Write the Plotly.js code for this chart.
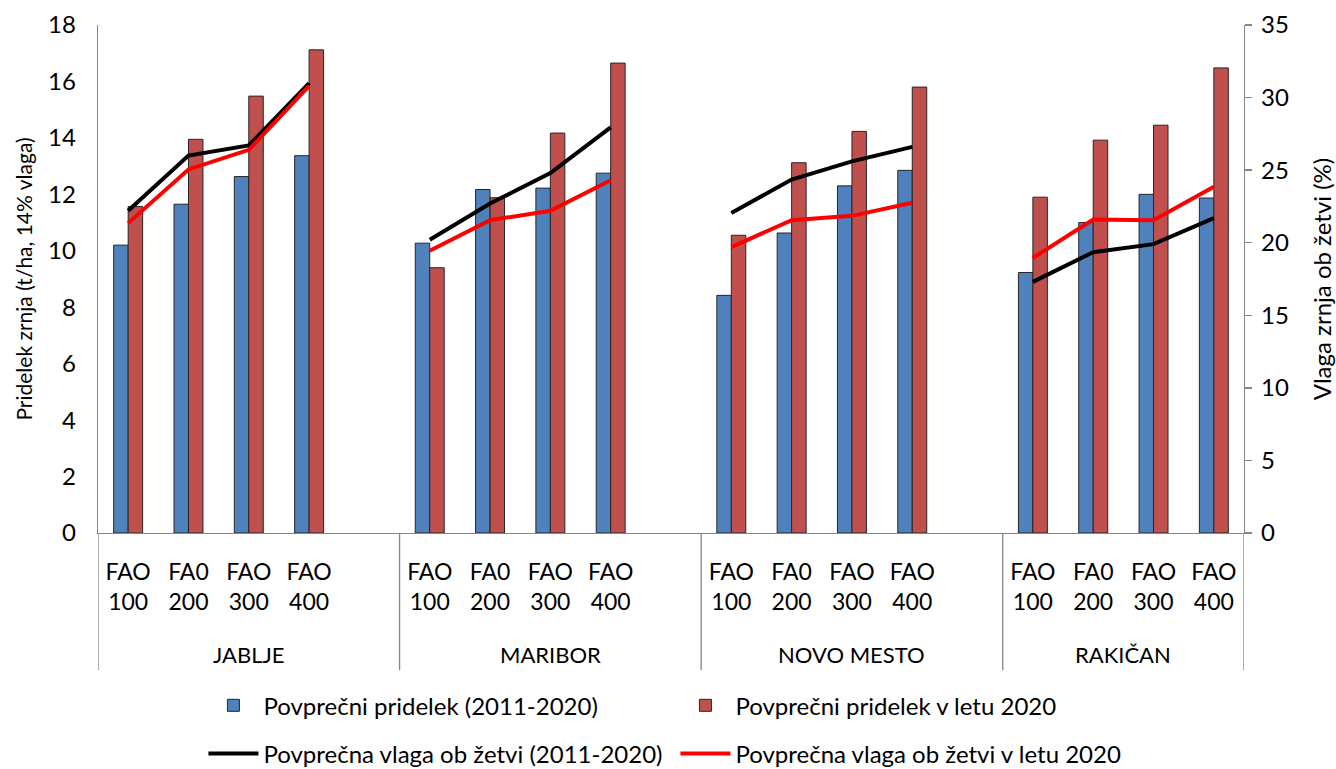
<!DOCTYPE html>
<html>
<head>
<meta charset="utf-8">
<script src="https://cdn.plot.ly/plotly-3.0.1.min.js"></script>
<style>html,body{margin:0;padding:0;background:#fff;}#chart{width:1336px;height:769px;}</style>
</head>
<body>
<div id="chart"></div>
<script>
// ---- data ----
const locations = ['JABLJE', 'MARIBOR', 'NOVO MESTO', 'RAKIČAN'];
const hybrids = ['FAO<br>100', 'FA0<br>200', 'FAO<br>300', 'FAO<br>400'];
// yield t/ha (left axis), per location in order of `locations`, per hybrid in order of `hybrids`
const yieldAvg = [10.2, 11.65, 12.63, 13.37, 10.27, 12.17, 12.22, 12.75, 8.42, 10.63, 12.3, 12.85, 9.23, 11.0, 12.0, 11.87];
const yield2020 = [11.57, 13.95, 15.48, 17.12, 9.4, 11.88, 14.17, 16.65, 10.55, 13.12, 14.23, 15.8, 11.9, 13.92, 14.45, 16.48];
// grain moisture at harvest % (right axis)
const moistAvg = [22.2, 26.0, 26.7, 31.0, 20.2, 22.7, 24.8, 27.95, 22.05, 24.35, 25.6, 26.6, 17.3, 19.35, 19.9, 21.7];
const moist2020 = [21.35, 25.05, 26.4, 30.8, 19.45, 21.55, 22.2, 24.3, 19.7, 21.55, 21.85, 22.75, 18.95, 21.6, 21.55, 23.85];
const seriesNames = ['Povprečni pridelek (2011-2020)', 'Povprečni pridelek v letu 2020',
                     'Povprečna vlaga ob žetvi (2011-2020)', 'Povprečna vlaga ob žetvi v letu 2020'];
const yTitleLeft = 'Pridelek zrnja (t/ha, 14% vlaga)';
const yTitleRight = 'Vlaga zrnja ob žetvi (%)';

// ---- layout helpers (slot positions) ----
const SLOTS_PER_GROUP = hybrids.length + 1; // one empty slot between groups
const xPos = [], tickText = [];
locations.forEach((loc, g) => hybrids.forEach((h, i) => { xPos.push(g * SLOTS_PER_GROUP + i); tickText.push(h); }));
const lastX = xPos[xPos.length - 1];
const xRange = [-0.5, lastX + 0.5];

function withGaps(vals) {
  const xs = [], ys = [];
  locations.forEach((loc, g) => {
    hybrids.forEach((h, i) => { const k = g * hybrids.length + i; xs.push(xPos[k]); ys.push(vals[k]); });
    xs.push(null); ys.push(null);
  });
  return {x: xs, y: ys};
}

const FONT = 'Lato, "Open Sans", sans-serif';
const TXT = '#000000';
const AX = '#868686';

const lAvg = withGaps(moistAvg), l2020 = withGaps(moist2020);
const traces = [
  {type: 'bar', x: xPos, y: yieldAvg, name: seriesNames[0], legend: 'legend',
   marker: {color: '#4F81BD', line: {color: '#262626', width: 1}}},
  {type: 'bar', x: xPos, y: yield2020, name: seriesNames[1], legend: 'legend',
   marker: {color: '#C0504D', line: {color: '#262626', width: 1}}},
  {type: 'scatter', mode: 'lines', x: lAvg.x, y: lAvg.y, yaxis: 'y2', name: seriesNames[2], legend: 'legend2',
   connectgaps: false, line: {color: '#000000', width: 4}},
  {type: 'scatter', mode: 'lines', x: l2020.x, y: l2020.y, yaxis: 'y2', name: seriesNames[3], legend: 'legend2',
   connectgaps: false, line: {color: '#FF0000', width: 4}}
];

// group dividers and group labels
const shapes = [], annotations = [];
const bounds = locations.map((loc, g) => g * SLOTS_PER_GROUP - 0.5);
bounds.push(xRange[1]);
bounds.forEach(b => shapes.push({type: 'line', xref: 'x', yref: 'paper', x0: b, x1: b, y0: 0, y1: -0.27,
  line: {color: AX, width: 1.3}}));
locations.forEach((loc, g) => annotations.push({xref: 'x', yref: 'paper', x: (bounds[g] + bounds[g + 1]) / 2,
  y: -0.24, yanchor: 'middle', text: loc, showarrow: false, font: {family: FONT, size: 22, color: TXT}}));

const legendCommon = {orientation: 'h', xanchor: 'left', yanchor: 'middle', entrywidth: 407, itemwidth: 50,
  font: {family: FONT, size: 24, color: TXT}, bgcolor: 'rgba(0,0,0,0)'};

const layout = {
  width: 1336, height: 769,
  margin: {l: 98, r: 92, t: 25, b: 236, autoexpand: false},
  paper_bgcolor: '#ffffff', plot_bgcolor: '#ffffff',
  barmode: 'group', bargap: 0.52, bargroupgap: 0,
  font: {family: FONT, size: 20, color: TXT},
  xaxis: {range: xRange, tickmode: 'array', tickvals: xPos, ticktext: tickText, ticks: '',
    showgrid: false, zeroline: false, showline: true, linecolor: AX, linewidth: 1.3,
    tickfont: {family: FONT, size: 23, color: TXT}, ticklabelstandoff: 18, fixedrange: true},
  yaxis: {range: [0, 18], dtick: 2, showgrid: false, zeroline: false, showline: true, linecolor: AX, linewidth: 1.3,
    ticks: '', ticklabelstandoff: 16, tickfont: {family: FONT, size: 24, color: TXT},
    title: {text: yTitleLeft, font: {family: FONT, size: 21, color: TXT}, standoff: 9}},
  yaxis2: {range: [0, 35], dtick: 5, overlaying: 'y', side: 'right', showgrid: false, zeroline: false,
    showline: true, linecolor: AX, linewidth: 1.3, ticks: 'outside', ticklen: 7, tickcolor: AX, tickwidth: 1.3,
    ticklabelstandoff: 4, tickfont: {family: FONT, size: 24, color: TXT},
    title: {text: yTitleRight, font: {family: FONT, size: 24, color: TXT}, standoff: 26}},
  legend: Object.assign({x: 0.092, y: -0.34}, legendCommon),
  legend2: Object.assign({x: 0.092, y: -0.435}, legendCommon),
  shapes: shapes, annotations: annotations,
  showlegend: true
};

Plotly.newPlot('chart', traces, layout, {displayModeBar: false, staticPlot: true});
</script>
</body>
</html>
